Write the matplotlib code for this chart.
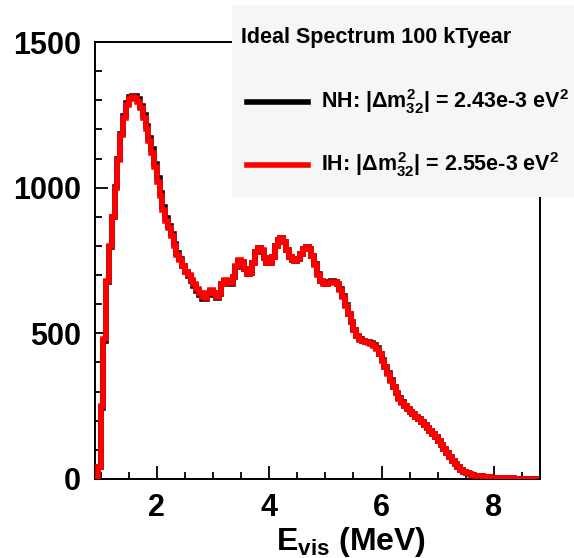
import numpy as np
import matplotlib
matplotlib.use("Agg")
import matplotlib.pyplot as plt
from matplotlib.patches import Rectangle
from matplotlib.lines import Line2D
from matplotlib.ticker import MultipleLocator

plt.rcParams['font.family'] = ['Liberation Sans', 'DejaVu Sans']
plt.rcParams['mathtext.fontset'] = 'custom'
plt.rcParams['mathtext.rm'] = 'Liberation Sans:bold'
plt.rcParams['mathtext.bf'] = 'Liberation Sans:bold'
plt.rcParams['mathtext.it'] = 'Liberation Sans:bold'

# visible energy binning (MeV), 0.05 MeV bins
e_lo, e_hi, e_step = 0.90, 8.80, 0.05
edges = np.round(np.arange(e_lo, e_hi + e_step / 2, e_step), 3)

# inverted hierarchy, events per bin (rows of 10 bins starting at 0.90, 1.40, ...)
ih_counts = [
    0, 40, 250, 480, 680, 800, 900, 1000, 1095, 1180,
    1240, 1285, 1305, 1312, 1308, 1295, 1272, 1238, 1200, 1160,
    1120, 1070, 1020, 970, 925, 885, 860, 835, 800, 770,
    752, 730, 712, 700, 682, 668, 652, 638, 625, 622,
    640, 648, 638, 625, 640, 670, 682, 675, 672, 695,
    730, 752, 745, 722, 705, 708, 740, 778, 792, 785,
    760, 742, 740, 762, 800, 822, 826, 812, 785, 762,
    752, 750, 755, 772, 790, 797, 790, 765, 735, 700,
    678, 670, 670, 674, 677, 675, 668, 650, 625, 595,
    565, 538, 510, 490, 478, 474, 470, 468, 465, 458,
    446, 428, 405, 385, 362, 338, 315, 295, 276, 262,
    250, 240, 230, 222, 213, 205, 195, 186, 176, 166,
    155, 143, 130, 118, 104, 90, 76, 62, 50, 40,
    32, 25, 20, 16, 13, 11, 10, 9, 8, 7,
    6, 5, 4, 4, 3, 3, 2, 2, 2, 1,
    1, 1, 1, 1, 1, 0, 0, 0,
]

# normal hierarchy, events per bin
nh_counts = [
    0, 40, 245, 475, 675, 798, 900, 1002, 1098, 1183,
    1245, 1290, 1310, 1316, 1314, 1303, 1282, 1250, 1212, 1172,
    1132, 1082, 1032, 982, 935, 895, 868, 842, 808, 776,
    756, 732, 712, 698, 678, 662, 645, 630, 618, 618,
    636, 645, 632, 620, 636, 668, 680, 672, 670, 694,
    728, 750, 744, 720, 704, 708, 740, 778, 792, 784,
    758, 740, 740, 762, 800, 822, 826, 812, 785, 762,
    752, 750, 755, 772, 790, 797, 790, 766, 737, 702,
    680, 672, 671, 675, 678, 676, 670, 652, 628, 598,
    568, 540, 512, 492, 479, 475, 471, 469, 466, 460,
    448, 430, 407, 386, 363, 339, 316, 296, 277, 263,
    250, 240, 230, 222, 213, 205, 195, 186, 176, 166,
    155, 143, 130, 118, 104, 90, 76, 62, 50, 40,
    32, 25, 20, 16, 13, 11, 10, 9, 8, 7,
    6, 5, 4, 4, 3, 3, 2, 2, 2, 1,
    1, 1, 1, 1, 1, 0, 0, 0,
]

title = "Ideal Spectrum 100 kTyear"
nh_label = r"NH: $|\Delta m^2_{32}|$ = 2.43e-3 eV$^2$"
ih_label = r"IH: $|\Delta m^2_{32}|$ = 2.55e-3 eV$^2$"

W, H = 574, 558
fig = plt.figure(figsize=(W / 100, H / 100), dpi=100)
ax = fig.add_axes([95 / W, 1 - 479 / H, 445 / W, 437 / H])

ax.stairs(nh_counts, edges, color='black', linewidth=4.0, zorder=2)
ax.stairs(ih_counts, edges, color='red', linewidth=4.0, zorder=3)

ax.set_xlim(0.9, 8.82)
ax.set_ylim(0, 1500)
ax.xaxis.set_major_locator(MultipleLocator(2))
ax.xaxis.set_minor_locator(MultipleLocator(0.5))
ax.yaxis.set_major_locator(MultipleLocator(500))
ax.yaxis.set_minor_locator(MultipleLocator(100))
ax.tick_params(which='both', direction='in', width=1.3)
ax.tick_params(which='major', length=9.5, labelsize=22, pad=10)
ax.tick_params(which='minor', length=5)
for lab in ax.get_xticklabels() + ax.get_yticklabels():
    lab.set_fontweight('bold')
for sp in ax.spines.values():
    sp.set_linewidth(1.4)

ax.set_xlabel(r"$\mathbf{E_{vis}}$ (MeV)", fontsize=23, fontweight='bold')
ax.xaxis.set_label_coords(0.575, -0.105)

# legend panel
def fx(px):
    return px / W

def fy(py):
    return 1 - py / H

fig.add_artist(Rectangle((fx(232), fy(197)), fx(574) - fx(232), fy(5) - fy(197),
                         transform=fig.transFigure, facecolor='#f6f6f6',
                         edgecolor='none', zorder=5))
fig.text(fx(241), fy(37), title, fontsize=15.5, fontweight='bold',
         va='center', ha='left', zorder=6)
fig.add_artist(Line2D([fx(247), fx(308)], [fy(102), fy(102)], color='black',
                      linewidth=4, transform=fig.transFigure, zorder=6))
fig.add_artist(Line2D([fx(247), fx(308)], [fy(165), fy(165)], color='red',
                      linewidth=4, transform=fig.transFigure, zorder=6))
fig.text(fx(321), fy(102), nh_label, fontsize=15.5, fontweight='bold',
         va='center', ha='left', zorder=6)
fig.text(fx(321), fy(165), ih_label, fontsize=15.5, fontweight='bold',
         va='center', ha='left', zorder=6)

fig.savefig('out.png', dpi=100)
